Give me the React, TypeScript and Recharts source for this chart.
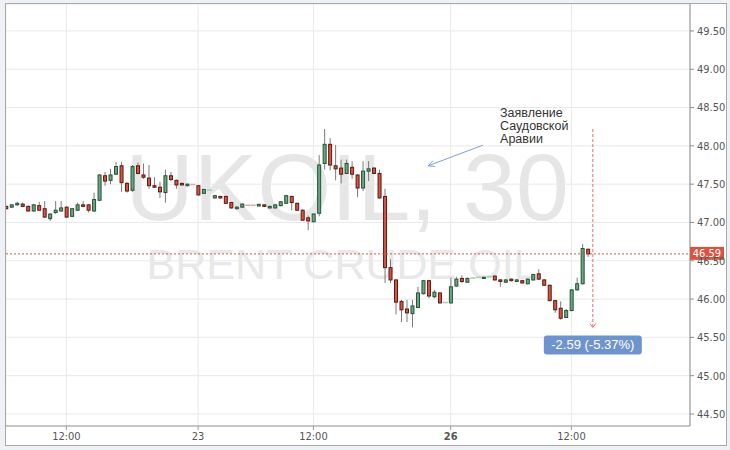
import React from "react";
import { ComposedChart, Bar, XAxis, YAxis, CartesianGrid, ReferenceLine, ReferenceDot } from "recharts";

// UKOIL 30-minute candles (index = bar number)
const opens = [
  47.21, 47.2, 47.23, 47.24, 47.21, 47.15, 47.22, 47.18, 47.05, 47.13,
  47.15, 47.2, 47.08, 47.16, 47.23, 47.23, 47.15, 47.29, 47.61, 47.55,
  47.63, 47.74, 47.51, 47.42, 47.74, 47.62, 47.58, 47.48, 47.46, 47.39,
  47.61, 47.55, 47.51, 47.48, 47.5, 47.48, 47.38, 47.42, 47.32, 47.34,
  47.34, 47.26, 47.18, 47.2, 47.23, 47.23, 47.215, 47.23, 47.19, 47.19,
  47.22, 47.25, 47.34, 47.25, 47.16, 47.06, 47.01, 47.12, 47.77, 48.02,
  47.74, 47.71, 47.64, 47.72, 47.62, 47.45, 47.67, 47.71, 47.64, 47.34,
  46.41, 46.25, 45.97, 45.87, 45.81, 45.89, 46.07, 46.24, 46.03, 46.08,
  45.95, 45.95, 46.17, 46.27, 46.22, 46.27, 46.28, 46.27, 46.29, 46.3,
  46.25, 46.22, 46.26, 46.23, 46.24, 46.2, 46.25, 46.33, 46.25, 46.18,
  45.98, 45.88, 45.76, 45.85, 46.12, 46.2, 46.65,
];
const highs = [
  47.22, 47.24, 47.27, 47.26, 47.22, 47.24, 47.27, 47.28, 47.12, 47.28,
  47.28, 47.21, 47.19, 47.26, 47.28, 47.24, 47.39, 47.63, 47.66, 47.7,
  47.79, 47.79, 47.53, 47.75, 47.78, 47.77, 47.75, 47.59, 47.53, 47.69,
  47.66, 47.56, 47.52, 47.51, 47.51, 47.49, 47.44, 47.43, 47.36, 47.35,
  47.35, 47.27, 47.21, 47.25, 47.235, 47.235, 47.24, 47.24, 47.22, 47.24,
  47.28, 47.36, 47.35, 47.26, 47.17, 47.09, 47.12, 47.88, 48.22, 48.1,
  48.01, 47.82, 47.82, 47.8, 47.63, 47.8, 47.8, 47.72, 47.69, 47.44,
  46.52, 46.26, 45.99, 45.99, 45.99, 46.16, 46.25, 46.25, 46.12, 46.09,
  45.96, 46.28, 46.29, 46.31, 46.28, 46.28, 46.31, 46.29, 46.295, 46.31,
  46.26, 46.26, 46.27, 46.26, 46.25, 46.27, 46.33, 46.39, 46.26, 46.19,
  45.99, 45.97, 45.87, 46.13, 46.28, 46.72, 46.66,
];
const lows = [
  47.17, 47.19, 47.22, 47.2, 47.14, 47.14, 47.15, 47.06, 47.02, 47.11,
  47.14, 47.06, 47.07, 47.15, 47.2, 47.13, 47.14, 47.28, 47.48, 47.5,
  47.62, 47.4, 47.39, 47.4, 47.63, 47.57, 47.44, 47.45, 47.32, 47.26,
  47.54, 47.44, 47.48, 47.47, 47.48, 47.35, 47.37, 47.41, 47.31, 47.31,
  47.24, 47.18, 47.17, 47.19, 47.22, 47.22, 47.21, 47.2, 47.18, 47.18,
  47.21, 47.24, 47.16, 47.15, 47.02, 46.9, 47.0, 47.08, 47.69, 47.68,
  47.55, 47.51, 47.63, 47.57, 47.33, 47.41, 47.54, 47.63, 47.31, 46.21,
  46.21, 45.8, 45.7, 45.7, 45.63, 45.88, 46.06, 46.01, 46.01, 45.94,
  45.94, 45.94, 46.16, 46.21, 46.21, 46.26, 46.27, 46.265, 46.285, 46.24,
  46.16, 46.21, 46.23, 46.22, 46.2, 46.19, 46.24, 46.25, 46.17, 45.97,
  45.82, 45.73, 45.75, 45.84, 46.11, 46.19, 46.55,
];
const closes = [
  47.18, 47.23, 47.25, 47.21, 47.15, 47.23, 47.16, 47.07, 47.11, 47.16,
  47.19, 47.07, 47.18, 47.23, 47.21, 47.16, 47.3, 47.62, 47.54, 47.62,
  47.73, 47.52, 47.41, 47.73, 47.64, 47.59, 47.48, 47.46, 47.4, 47.61,
  47.56, 47.49, 47.49, 47.5, 47.495, 47.36, 47.43, 47.422, 47.35, 47.32,
  47.25, 47.19, 47.2, 47.24, 47.225, 47.225, 47.237, 47.21, 47.21, 47.23,
  47.27, 47.35, 47.26, 47.16, 47.03, 47.02, 47.11, 47.75, 48.02, 47.75,
  47.7, 47.63, 47.77, 47.63, 47.45, 47.67, 47.7, 47.64, 47.32, 46.41,
  46.25, 45.96, 45.86, 45.82, 45.91, 46.08, 46.24, 46.04, 46.09, 45.95,
  45.955, 46.16, 46.26, 46.23, 46.27, 46.275, 46.283, 46.285, 46.292, 46.25,
  46.23, 46.25, 46.24, 46.25, 46.21, 46.26, 46.32, 46.26, 46.18, 45.98,
  45.86, 45.75, 45.85, 46.12, 46.2, 46.66, 46.59,
];

const xTicks = [11, 35, 56, 81, 103];
const xTickLabels = ["12:00", "23", "12:00", "26", "12:00"];
const boldTicks = ["26"];
const yTicks = [44.5, 45, 45.5, 46, 46.5, 47, 47.5, 48, 48.5, 49, 49.5];

const lastPrice = 46.59;
const measureX = 106.9;
const measureFrom = 48.22;
const measureTo = 45.63;
const noteLines = ["Заявление", "Саудовской", "Аравии"];
const notePos = { x: 90, y: 48.375 };
const noteArrow = [
  { x: 86.9, y: 48.01 },
  { x: 76.9, y: 47.74 },
];

const data = opens.map((o, i) => ({ i, open: o, high: highs[i], low: lows[i], close: closes[i] }));

const change = measureTo - measureFrom;
const changePct = (change / measureFrom) * 100;
const measureLabel = `${change.toFixed(2)} (${changePct.toFixed(2)}%)`;

const axisFont = "'Liberation Sans Narrow', 'Arial Narrow', 'DejaVu Sans Condensed', sans-serif";
const textFont = "'Liberation Sans', Arial, sans-serif";

function Candle(props: any) {
  const { x, y, width, height, payload } = props;
  const { open, close, high, low } = payload;
  const range = high - low;
  const py = (v: number) => (range > 0 ? y + ((high - v) / range) * height : y);
  const cx = x + width / 2;
  const up = close >= open;
  if (Math.abs(close - open) < 0.008) {
    return (
      <line x1={x - 0.5} x2={x + width + 0.5} y1={py(close)} y2={py(close)}
        stroke={up ? "#9fceb0" : "#eea69c"} strokeWidth={1.5} />
    );
  }
  const top = py(Math.max(open, close));
  const bottom = py(Math.min(open, close));
  return (
    <g>
      <line x1={cx} x2={cx} y1={y} y2={y + height} stroke="#7b7b7b" strokeWidth={1} />
      <rect x={x + 0.5} y={top} width={width - 1} height={Math.max(bottom - top, 1)}
        fill={up ? "#6ba583" : "#d75442"} stroke={up ? "#225437" : "#5b1a13"} strokeWidth={1} />
    </g>
  );
}

function XTick(props: any) {
  const { x, y, payload } = props;
  const label = xTickLabels[xTicks.indexOf(payload.value)];
  return (
    <text x={x} y={y} dy="0.71em" textAnchor="middle" fill="#555" fontSize={11}
      fontFamily={axisFont} fontWeight={boldTicks.includes(label) ? "bold" : "normal"}>
      {label}
    </text>
  );
}

function PriceLine(props: any) {
  const { x1, x2, y1 } = props;
  const left = Math.min(x1, x2);
  const right = Math.max(x1, x2);
  return (
    <g>
      <line x1={left} x2={right} y1={y1} y2={y1} stroke="#d9534a" strokeWidth={1} strokeDasharray="2 2" />
      <rect x={right} y={y1 - 7} width={34} height={13} fill="#d75442" />
      <text x={right + 17} y={y1 + 3.5} textAnchor="middle" fill="#fff" fontSize={11} fontFamily={axisFont}>
        {lastPrice.toFixed(2)}
      </text>
    </g>
  );
}

function NoteArrow(props: any) {
  const { x1, y1, x2, y2 } = props;
  const a = Math.atan2(y1 - y2, x1 - x2);
  const s = 7;
  return (
    <g stroke="#7f9fd8" strokeWidth={1} fill="none">
      <line x1={x1} y1={y1} x2={x2} y2={y2} />
      <polyline points={`${x2 + s * Math.cos(a - 0.45)},${y2 + s * Math.sin(a - 0.45)} ${x2},${y2} ${x2 + s * Math.cos(a + 0.45)},${y2 + s * Math.sin(a + 0.45)}`} />
    </g>
  );
}

function MeasureArrow(props: any) {
  const { x1, y1, x2, y2 } = props;
  const bottom = Math.max(y1, y2);
  const top = Math.min(y1, y2);
  return (
    <g>
      <line x1={x1} x2={x2} y1={top} y2={bottom} stroke="#f26b6b" strokeWidth={1} strokeDasharray="3 2" />
      <polyline points={`${x1 - 3},${bottom - 4} ${x1},${bottom} ${x1 + 3},${bottom - 4}`}
        stroke="#f26b6b" fill="none" strokeWidth={1} />
      <rect x={x1 - 49} y={bottom + 8} width={98} height={19} rx={3} fill="#6f94cd" />
      <text x={x1} y={bottom + 22} textAnchor="middle" fill="#fff" fontSize={13} fontFamily={textFont}>
        {measureLabel}
      </text>
    </g>
  );
}

function NoteText(props: any) {
  const { cx, cy } = props;
  return (
    <text x={cx} y={cy} fill="#333" fontSize={12.5} fontFamily={textFont}>
      {noteLines.map((line, k) => (
        <tspan key={k} x={cx} dy={k === 0 ? 0 : 13}>{line}</tspan>
      ))}
    </text>
  );
}

export default function App() {
  return (
    <div style={{ position: "relative", width: 730, height: 450, background: "#eef1f5", overflow: "hidden" }}>
      <style>{"body{margin:0}"}</style>
      <div style={{ position: "absolute", left: 5, top: 3, width: 720, height: 441, border: "1px solid #a9a9a9", background: "#fff" }} />
      <svg width={730} height={450} style={{ position: "absolute", left: 0, top: 0 }}>
        <text x={347} y={220} textAnchor="middle" fontSize={95} fill="#e6e6e6" fontFamily={textFont}>UKOIL, 30</text>
        <text x={342} y={279} textAnchor="middle" fontSize={43} fill="#e8e8e8" fontFamily={textFont}>BRENT CRUDE OIL</text>
      </svg>
      <div style={{ position: "absolute", left: 6, top: 4 }}>
        <ComposedChart width={720} height={441} data={data} margin={{ top: 0, right: 0, bottom: 0, left: 0 }}>
          <CartesianGrid stroke="#e9e9e9" />
          <XAxis dataKey="i" type="number" domain={[0, 124.6]} allowDataOverflow ticks={xTicks} interval={0}
            height={19} tickSize={4} tickMargin={2} tick={<XTick />}
            axisLine={{ stroke: "#999" }} tickLine={{ stroke: "#999" }} />
          <YAxis orientation="right" width={36} domain={[44.343, 49.852]} allowDataOverflow ticks={yTicks}
            interval={0} tickSize={4} tickMargin={3} tickFormatter={(v: number) => v.toFixed(2)}
            tick={{ fill: "#555", fontSize: 11, fontFamily: axisFont }}
            axisLine={{ stroke: "#8c8c8c" }} tickLine={{ stroke: "#8c8c8c" }} />
          <Bar dataKey={(d: any) => [d.low, d.high]} barSize={4} shape={<Candle />} isAnimationActive={false} />
          <ReferenceLine y={lastPrice} shape={<PriceLine />} zIndex={1000} />
          <ReferenceLine segment={noteArrow} shape={<NoteArrow />} />
          <ReferenceLine segment={[{ x: measureX, y: measureFrom }, { x: measureX, y: measureTo }]} shape={<MeasureArrow />} />
          <ReferenceDot x={notePos.x} y={notePos.y} shape={<NoteText />} />
        </ComposedChart>
      </div>
    </div>
  );
}
